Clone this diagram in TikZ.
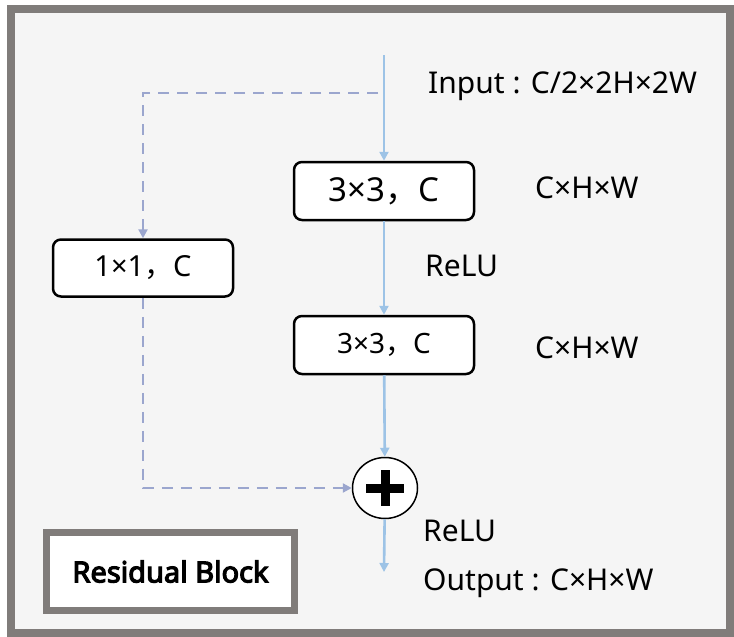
\documentclass[tikz,border=0pt]{standalone}
\usepackage{fontspec}
\setmainfont{Noto Sans}
\newfontfamily\cjkfont{Noto Sans CJK SC}
\newfontfamily\captionfont{Noto Sans}[FakeBold=4]
\newcommand{\fwcomma}{{\cjkfont ，}}
\usetikzlibrary{positioning, arrows.meta, shapes.geometric}
\definecolor{framegray}{RGB}{128,124,122}
\definecolor{bggray}{RGB}{245,245,245}
\definecolor{flowblue}{RGB}{157,195,230}
\definecolor{skipblue}{RGB}{155,166,206}

\begin{document}
\begin{tikzpicture}[x=1pt, y=-1pt, >={Triangle[length=9pt, width=9pt]},
  conv/.style={draw, line width=2.5pt, rounded corners=8pt, fill=white, minimum width=180pt, inner sep=0pt},
  mainflow/.style={->, flowblue, line width=2.6pt},
  skipflow/.style={->, skipblue, line width=2.6pt, dash pattern=on 11pt off 8pt},
  dimlabel/.style={anchor=west, inner sep=0pt, font=\fontsize{30}{34}\selectfont}]
\useasboundingbox (0,0) rectangle (734,637);
% outer frame
\draw[framegray, line width=8pt, fill=bggray] (11,9) rectangle (730,633);
% main path: two 3x3 convolutions
\node[conv, minimum height=58pt, font=\fontsize{33}{38}\selectfont] (convA) at (384,191) {3×3\fwcomma C};
\node[conv, minimum height=58pt, font=\fontsize{28}{32}\selectfont] (convB) at (384,345) {3×3\fwcomma C};
% shortcut: 1x1 convolution
\node[conv, minimum height=57pt, font=\fontsize{29}{33}\selectfont] (convS) at (143,268) {1×1\fwcomma C};
% element-wise sum
\node[ellipse, draw, line width=1.5pt, fill=white, minimum width=65pt, minimum height=61pt] (sum) at (385,488) {};
\fill (sum.center) +(-19,-4.5) rectangle +(19,4.5);
\fill (sum.center) +(-4.5,-18) rectangle +(4.5,18);
% connectors
\coordinate (inTop) at (384,55);
\coordinate (split) at (378,93);
\coordinate (outEnd) at (384,572);
\draw[mainflow] (inTop) -- (convA);
\draw[mainflow] (convA) -- (convB);
\draw[mainflow] (convB) -- (sum);
\draw[mainflow] (sum) -- (outEnd);
\draw[skipflow] (split) -| (convS.north);
\draw[skipflow] (convS.south) |- (sum.west);
% labels
\node[dimlabel] (inLbl) at (428,86) {Input : C/2×2H×2W};
\node[dimlabel] (dimA) at (535,188) {C×H×W};
\node[dimlabel] (reluA) at (425,266) {ReLU};
\node[dimlabel] (dimB) at (535,348) {C×H×W};
\node[dimlabel] (reluB) at (423,531) {ReLU};
\node[dimlabel] (outLbl) at (423,583) {Output : C×H×W};
% caption box
\node[draw=framegray, line width=7pt, fill=white, minimum width=248pt, minimum height=78pt,
  font=\captionfont\fontsize{29}{33}\selectfont] (caption) at (170.5,571.5) {Residual Block};
\end{tikzpicture}
\end{document}
